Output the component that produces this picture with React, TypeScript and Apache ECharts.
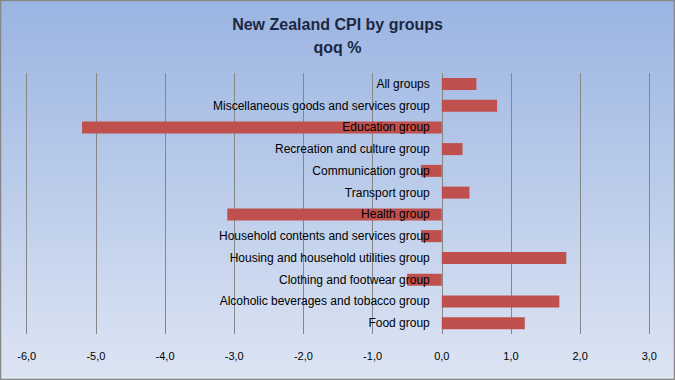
import React, { useEffect, useRef } from "react";
import * as echarts from "echarts";

const categories = [
  "All groups",
  "Miscellaneous goods and services group",
  "Education group",
  "Recreation and culture group",
  "Communication group",
  "Transport group",
  "Health group",
  "Household contents and services group",
  "Housing and household utilities group",
  "Clothing and footwear group",
  "Alcoholic beverages and tobacco group",
  "Food group",
];
const values = [0.5, 0.8, -5.2, 0.3, -0.3, 0.4, -3.1, -0.3, 1.8, -0.5, 1.7, 1.2];
const titleLines = ["New Zealand CPI by groups", "qoq %"];
const xMin = -6;
const xMax = 3;

export default function App() {
  const ref = useRef<HTMLDivElement>(null);
  useEffect(() => {
    document.body.style.margin = "0";
    const chart = echarts.init(ref.current!, null, { renderer: "svg" });
    const gridLeft = 26.7;
    const gridRight = 25.7;
    const plotW = 675 - gridLeft - gridRight;
    const zeroOffset = (plotW * (0 - xMin)) / (xMax - xMin);
    chart.setOption({
      animation: false,
      backgroundColor: {
        type: "linear",
        x: 0,
        y: 0,
        x2: 0,
        y2: 1,
        colorStops: [
          { offset: 0, color: "#9AB4E2" },
          { offset: 1, color: "#DDE5F3" },
        ],
      },
      title: {
        text: titleLines.join("\n"),
        left: "center",
        top: 8,
        textStyle: {
          fontFamily: "Liberation Sans",
          fontSize: 16,
          fontWeight: "bold",
          color: "#1c2841",
          lineHeight: 23,
        },
      },
      graphic: [
        {
          type: "rect",
          shape: { x: 0.5, y: 0.5, width: 674, height: 379 },
          style: { fill: "none", stroke: "#868686", lineWidth: 1.5 },
          silent: true,
        },
      ],
      grid: {
        left: gridLeft,
        right: gridRight,
        top: 73,
        bottom: 46,
        containLabel: false,
        outerBoundsMode: "none",
      },
      xAxis: {
        type: "value",
        min: xMin,
        max: xMax,
        interval: 1,
        axisLine: { show: false },
        axisTick: { show: false },
        splitLine: { show: true, lineStyle: { color: "#868686", width: 1 } },
        axisLabel: {
          margin: 16,
          fontFamily: "Liberation Sans",
          fontSize: 11,
          color: "#000",
          formatter: (v: number) => v.toFixed(1).replace(".", ","),
        },
      },
      yAxis: {
        type: "category",
        data: categories,
        inverse: true,
        z: 10,
        offset: -zeroOffset,
        axisLine: { show: false, onZero: false },
        axisTick: { show: false },
        splitLine: { show: false },
        axisLabel: {
          margin: 12,
          fontFamily: "Liberation Sans",
          fontSize: 12,
          color: "#000",
        },
      },
      series: [
        {
          type: "bar",
          data: values,
          barWidth: 12,
          itemStyle: { color: "#C0504D" },
        },
      ],
    });
    return () => chart.dispose();
  }, []);
  return <div ref={ref} style={{ width: 675, height: 380 }} />;
}
